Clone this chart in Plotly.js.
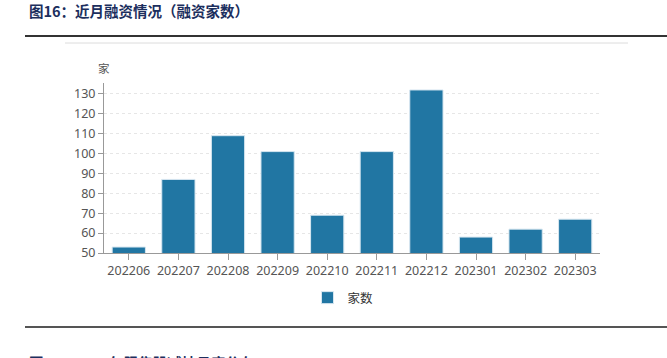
<!DOCTYPE html>
<html><head><meta charset="utf-8">
<script src="https://cdn.plot.ly/plotly-3.0.1.min.js"></script>
<style>html,body{margin:0;padding:0;background:#fff;}#c{width:667px;height:358px;}</style>
</head><body><div id="c"></div>
<script>
const categories = ['202206','202207','202208','202209','202210','202211','202212','202301','202302','202303'];
const counts = [53, 87, 109, 101, 69, 101, 132, 58, 62, 67];
const seriesName = '家数';
const yTicks = [50,60,70,80,90,100,110,120,130];

const L = 104, R = 600, T = 83, B = 253;
const px = x => (x - L) / (R - L);
const py = y => (B - y) / (B - T);

const trace = {
  type: 'bar', x: categories, y: counts, name: seriesName,
  marker: {color: '#2176a3', line: {color: '#d6e6f0', width: 1}},
  hoverinfo: 'x+y'
};
const layout = {
  width: 667, height: 358,
  margin: {l: L, r: 667 - R, t: T, b: 358 - B, pad: 0},
  paper_bgcolor: '#fff', plot_bgcolor: '#fff',
  font: {family: 'Noto Sans, Noto Sans CJK SC, sans-serif', size: 12, color: '#444'},
  bargap: 0.33,
  showlegend: true,
  legend: {orientation: 'h', x: px(343), xanchor: 'center', y: py(298), yanchor: 'middle',
           itemwidth: 30,
           font: {size: 12.5, color: '#333', family: 'Noto Sans CJK SC, sans-serif'}},
  xaxis: {type: 'category', showline: true, linecolor: '#999', linewidth: 1,
          ticks: 'outside', ticklen: 6, tickcolor: '#999', showgrid: false,
          tickfont: {size: 12.5, color: '#555'}, fixedrange: true},
  yaxis: {range: [50, 135.5], tickvals: yTicks, showline: true, linecolor: '#999', linewidth: 1,
          ticks: 'outside', ticklen: 5, tickcolor: '#999',
          showgrid: true, gridcolor: '#e6e6e6', griddash: '3px,3px', gridwidth: 1,
          zeroline: false, tickfont: {size: 12.5, color: '#555'}, fixedrange: true},
  shapes: [
    {type: 'line', xref: 'paper', yref: 'paper', x0: px(25), x1: px(667), y0: py(36), y1: py(36),
     line: {color: '#333', width: 2}},
    {type: 'line', xref: 'paper', yref: 'paper', x0: px(65), x1: px(628), y0: py(43), y1: py(43),
     line: {color: '#dcdcdc', width: 1}},
    {type: 'line', xref: 'paper', yref: 'paper', x0: px(25), x1: px(667), y0: py(327), y1: py(327),
     line: {color: '#555', width: 2}}
  ],
  annotations: [
    {xref: 'paper', yref: 'paper', x: px(27), y: py(10), xanchor: 'left', yanchor: 'middle',
     text: '图16：近月融资情况（融资家数）', showarrow: false,
     font: {family: 'Noto Sans CJK SC, sans-serif', size: 14.5, color: '#1c2f5e', weight: 600}},
    {xref: 'paper', yref: 'paper', x: px(104), y: py(68), xanchor: 'center', yanchor: 'middle',
     text: '家', showarrow: false, font: {family: 'Noto Sans CJK SC, sans-serif', size: 11.5, color: '#555'}},
    {xref: 'paper', yref: 'paper', x: px(27), y: py(350), xanchor: 'left', yanchor: 'top',
     text: '图17：2023年限售股减持月度分布', showarrow: false,
     font: {family: 'Noto Sans CJK SC, sans-serif', size: 14.5, color: '#1c2f5e', weight: 600}}
  ]
};
Plotly.newPlot('c', [trace], layout, {displayModeBar: false, staticPlot: true});
</script></body></html>
